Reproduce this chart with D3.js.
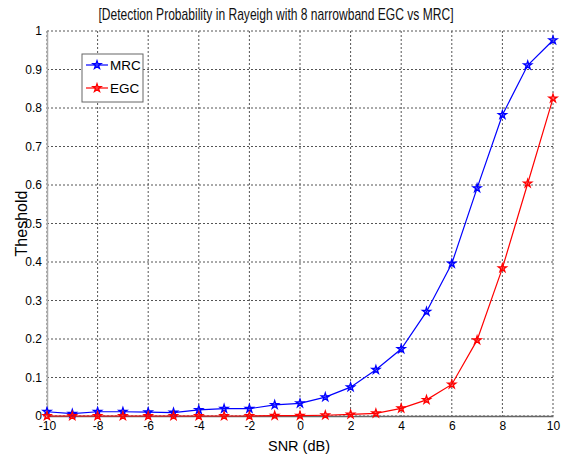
<!DOCTYPE html>
<html>
<head>
<meta charset="utf-8">
<title>Detection Probability</title>
<script src="https://d3js.org/d3.v7.min.js"></script>
<style>
  body { margin: 0; background: #fff; }
  text { font-family: "Liberation Sans", Arial, sans-serif; }
</style>
</head>
<body>
<div id="chart"></div>
<script>
// data
var snr = [-10, -9, -8, -7, -6, -5, -4, -3, -2, -1, 0, 1, 2, 3, 4, 5, 6, 7, 8, 9, 10];
var mrc = [0.011, 0.006, 0.011, 0.011, 0.010, 0.009, 0.016, 0.019, 0.019, 0.029, 0.033, 0.049, 0.075, 0.12, 0.174, 0.271, 0.396, 0.592, 0.782, 0.911, 0.976];
var egc = [0.000, 0.000, 0.000, 0.000, 0.000, 0.000, 0.000, 0.000, 0.000, 0.001, 0.001, 0.002, 0.004, 0.007, 0.020, 0.042, 0.082, 0.197, 0.384, 0.604, 0.825];
var xTicks = [-10, -8, -6, -4, -2, 0, 2, 4, 6, 8, 10];
var yTicks = [0, 0.1, 0.2, 0.3, 0.4, 0.5, 0.6, 0.7, 0.8, 0.9, 1];
var seriesNames = ["MRC", "EGC"];
var seriesColors = ["#0000ff", "#ff0000"];

var W = 566, H = 457;
var margin = {top: 31, right: 13, bottom: 41, left: 47},
    width = W - margin.left - margin.right,
    height = H - margin.top - margin.bottom;

var svg = d3.select("#chart").append("svg")
    .attr("width", W)
    .attr("height", H);

var g = svg.append("g")
    .attr("transform", "translate(" + margin.left + "," + margin.top + ")");

var x = d3.scaleLinear().domain([-10, 10]).range([0, width]);
var y = d3.scaleLinear().domain([0, 1]).range([height, 0]);

// grid
g.append("g").selectAll("line")
  .data(xTicks)
  .enter().append("line")
    .attr("x1", function(d) { return x(d); })
    .attr("x2", function(d) { return x(d); })
    .attr("y1", 0).attr("y2", height)
    .attr("stroke", "#555").attr("stroke-width", 1)
    .attr("stroke-dasharray", "2,2");
g.append("g").selectAll("line")
  .data(yTicks)
  .enter().append("line")
    .attr("y1", function(d) { return y(d); })
    .attr("y2", function(d) { return y(d); })
    .attr("x1", 0).attr("x2", width)
    .attr("stroke", "#555").attr("stroke-width", 1)
    .attr("stroke-dasharray", "2,2");

// axes (hyphen minus like the original, not the unicode minus)
var xAxis = g.append("g")
  .attr("transform", "translate(0," + height + ")")
  .call(d3.axisBottom(x).tickValues(xTicks).tickSize(0).tickPadding(4).tickFormat(function(d) { return String(d); }));
var yAxis = g.append("g")
  .call(d3.axisLeft(y).tickValues(yTicks).tickSize(0).tickPadding(5).tickFormat(function(d) { return d === 0 ? "0" : d === 1 ? "1" : d3.format(".1f")(d); }));
xAxis.select(".domain").attr("stroke", "#666").attr("stroke-width", 1.5);
yAxis.select(".domain").attr("stroke", "#aaa").attr("stroke-width", 1.5);
[xAxis, yAxis].forEach(function(a) {
  a.selectAll("text").attr("font-size", 12).attr("fill", "#000")
    .attr("font-family", "'Liberation Sans', Arial, sans-serif");
});
xAxis.selectAll("text").attr("dy", "0.8em");

// lines and markers
var series = [mrc, egc];
var line = d3.line()
  .x(function(d, i) { return x(snr[i]); })
  .y(function(d) { return y(d); });
var star = d3.symbol().type(d3.symbolStar).size(20);

series.forEach(function(vals, k) {
  g.append("path")
    .datum(vals)
    .attr("fill", "none")
    .attr("stroke", seriesColors[k])
    .attr("stroke-width", 1.2)
    .attr("d", line);
  g.append("g").selectAll("path")
    .data(vals)
    .enter().append("path")
      .attr("d", star)
      .attr("transform", function(d, i) { return "translate(" + x(snr[i]) + "," + y(d) + ")"; })
      .attr("fill", seriesColors[k])
      .attr("fill-opacity", 0.35)
      .attr("stroke", seriesColors[k])
      .attr("stroke-width", 1.3);
});

// title and labels
svg.append("text")
  .attr("x", 276).attr("y", 20)
  .attr("text-anchor", "middle")
  .attr("font-size", 17)
  .attr("fill", "#111")
  .attr("textLength", 355)
  .attr("lengthAdjust", "spacingAndGlyphs")
  .text("[Detection Probability in Rayeigh with 8 narrowband EGC vs MRC]");

svg.append("text")
  .attr("x", 299).attr("y", 451)
  .attr("text-anchor", "middle")
  .attr("font-size", 14.5)
  .text("SNR (dB)");

svg.append("text")
  .attr("transform", "translate(27," + (margin.top + height / 2) + ") rotate(-90)")
  .attr("text-anchor", "middle")
  .attr("font-size", 16)
  .text("Theshold");

// legend
var lg = svg.append("g").attr("transform", "translate(82,54)");
lg.append("rect")
  .attr("width", 61).attr("height", 48)
  .attr("fill", "#fff").attr("stroke", "#666").attr("stroke-width", 1);
seriesNames.forEach(function(name, k) {
  var ly = 11 + k * 23;
  lg.append("line")
    .attr("x1", 4).attr("x2", 26).attr("y1", ly).attr("y2", ly)
    .attr("stroke", seriesColors[k]).attr("stroke-width", 1.2);
  lg.append("path")
    .attr("d", star)
    .attr("transform", "translate(15," + ly + ")")
    .attr("fill", seriesColors[k]).attr("fill-opacity", 0.35)
    .attr("stroke", seriesColors[k]).attr("stroke-width", 1.3);
  lg.append("text")
    .attr("x", 28).attr("y", ly + 5)
    .attr("font-size", 13.5)
    .text(name);
});
</script>
</body>
</html>
